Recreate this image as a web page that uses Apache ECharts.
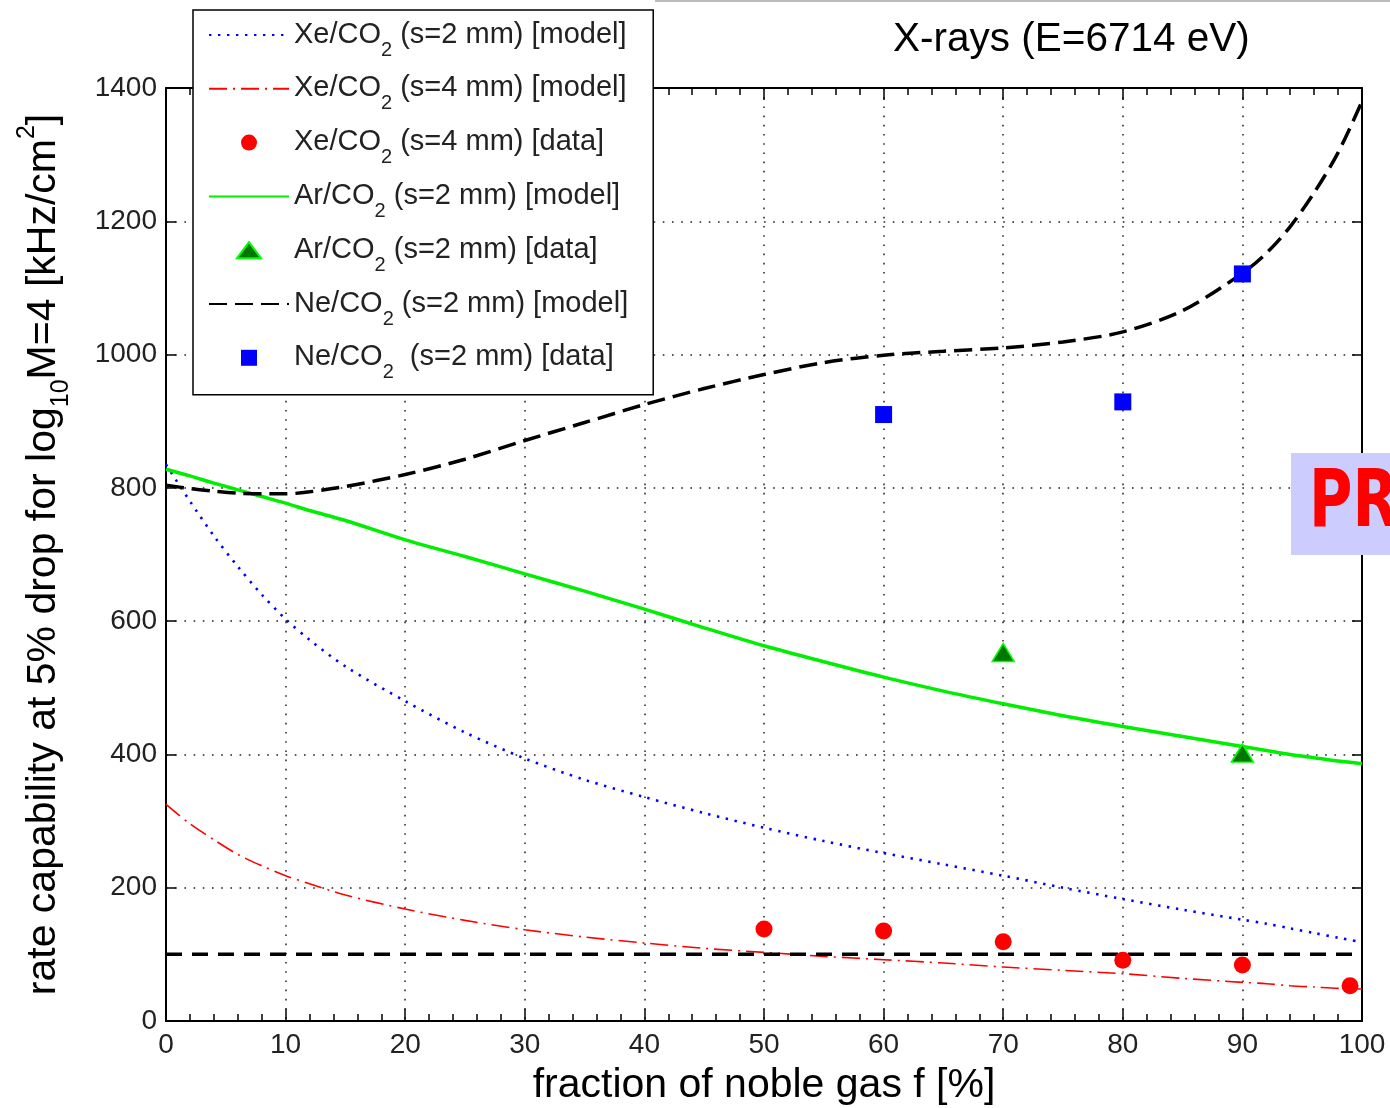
<!DOCTYPE html>
<html>
<head>
<meta charset="utf-8">
<script src="https://cdn.jsdelivr.net/npm/echarts@6/dist/echarts.min.js"></script>
<style>
html,body{margin:0;padding:0;background:#fff;}
#chart{width:1390px;height:1108px;}
</style>
</head>
<body>
<div id="chart"></div>
<script>
// ---- data ----
const fractionModel = [0,2,4,6,8,10,12,15,20,25,30,35,40,45,50,55,60,65,70,75,80,85,90,92,94,96,98,100];
const xe2Model = [835,780,728,682,640,603,572,532,480,433,394,362,336,312,290,270,252,235,218,200,183,167,152,146,139,132,125,118];
const xe4Model = [325,296,272,250,233,218,206,189,168,151,137,126,117,109,103,97,92,87,81,76,71,64,58,56,53,51,49,48];
const arModel  = [828,818,807,797,787,777,766,751,722,697,671,645,618,590,563,539,516,495,476,458,442,427,412,406,400,395,390,386];
const neModel  = [804,799,795,792,791,791,794,802,820,843,871,898,925,949,970,988,999,1005,1010,1019,1034,1066,1122,1152,1192,1243,1303,1380];

const xeDataF = [50,60,70,80,90,99];
const xeDataV = [138,135,119,91,84,53];
const arDataF = [70,90];
const arDataV = [553,402];
const neDataF = [60,80,90];
const neDataV = [910,929,1121];

const limitF = [0,100];
const limitV = [100,100];

const xTicks = {min:0, max:100, interval:10};
const yTicks = {min:0, max:1400, interval:200};

const names = [
  'Xe/CO2 (s=2 mm) [model]',
  'Xe/CO2 (s=4 mm) [model]',
  'Xe/CO2 (s=4 mm) [data]',
  'Ar/CO2 (s=2 mm) [model]',
  'Ar/CO2 (s=2 mm) [data]',
  'Ne/CO2 (s=2 mm) [model]',
  'Ne/CO2  (s=2 mm) [data]'
];

const zip = (a,b) => a.map((v,i)=>[v,b[i]]);
const FONT = '"Liberation Sans", Arial, sans-serif';

const chart = echarts.init(document.getElementById('chart'), null, {renderer:'canvas'});

const dotted = {type:[1.6,7.6], color:'#222', width:1.5};
const axisCommonX = {
  type:'value', min:xTicks.min, max:xTicks.max, interval:xTicks.interval,
  axisLine:{show:true, onZero:false, lineStyle:{color:'#000', width:2}},
  axisTick:{show:true, inside:true, length:12, lineStyle:{color:'#000', width:1.5}},
  minorTick:{show:true, splitNumber:5, length:7, lineStyle:{color:'#000', width:1.5}},
};
const axisCommonY = {
  type:'value', min:yTicks.min, max:yTicks.max, interval:yTicks.interval,
  axisLine:{show:true, onZero:false, lineStyle:{color:'#000', width:2}},
  axisTick:{show:true, inside:true, length:10, lineStyle:{color:'#000', width:1.5}},
};

const hideSym = {color:'rgba(0,0,0,0)', borderWidth:0, opacity:0};
const legendData = [
  {name:names[0], itemStyle:hideSym},
  {name:names[1], itemStyle:hideSym},
  {name:names[2], icon:'circle'},
  {name:names[3], itemStyle:hideSym},
  {name:names[4], icon:'path://M0,8 L6,0 L12,8 Z'},
  {name:names[5], itemStyle:hideSym},
  {name:names[6], icon:'path://M0,0 L10,0 L10,10 L0,10 Z'}
];

const option = {
  backgroundColor:'#fff',
  animation:false,
  textStyle:{fontFamily:FONT},
  title:{
    text:'X-rays (E=6714 eV)', left:893, top:19, padding:0,
    textStyle:{fontFamily:FONT, fontSize:40.5, fontWeight:'normal', color:'#000'}
  },
  grid:{left:166, right:28, top:88, bottom:87, containLabel:false, outerBoundsMode:'none'},
  xAxis:[
    Object.assign({}, axisCommonX, {
      position:'bottom',
      axisLabel:{show:true, fontSize:28, color:'#222', margin:10, fontFamily:FONT},
      splitLine:{show:true, lineStyle:dotted},
      name:'fraction of noble gas f [%]', nameLocation:'middle', nameGap:44,
      nameTextStyle:{fontSize:41, color:'#000', fontFamily:FONT}
    }),
    Object.assign({}, axisCommonX, {
      position:'top', axisLabel:{show:false}, splitLine:{show:false}
    })
  ],
  yAxis:[
    Object.assign({}, axisCommonY, {
      position:'left',
      axisLabel:{show:true, fontSize:28, color:'#222', margin:9, fontFamily:FONT, formatter: v => String(v)},
      splitLine:{show:true, lineStyle:dotted},
      name:'{m|rate capability at 5% drop for log}{b|10}{m|M=4 [kHz/cm}{p|2}{m|]}',
      nameLocation:'middle', nameGap:107, nameRotate:90,
      nameTextStyle:{
        color:'#000', fontFamily:FONT,
        rich:{
          m:{fontSize:41, lineHeight:44, verticalAlign:'top', padding:[8,0,0,0], fontFamily:FONT, color:'#000'},
          b:{fontSize:25, lineHeight:25, verticalAlign:'top', padding:[34,0,0,0], fontFamily:FONT, color:'#000'},
          p:{fontSize:25, lineHeight:25, verticalAlign:'top', padding:[0,0,0,0], fontFamily:FONT, color:'#000'}
        }
      }
    }),
    Object.assign({}, axisCommonY, {
      position:'right', axisLabel:{show:false}, splitLine:{show:false}
    })
  ],
  legend:{
    data:legendData, orient:'vertical', left:193, top:10,
    padding:[10,25,12,15], itemGap:13.8, itemWidth:80, itemHeight:16,
    backgroundColor:'#fff', borderColor:'#000', borderWidth:1.5, borderRadius:0,
    selectedMode:false, z:10, symbolKeepAspect:true,
    formatter: n => '{a|' + n.replace('CO2', 'CO}{s|2}{a|') + '}',
    textStyle:{
      color:'#222', fontFamily:FONT, padding:[0,0,0,0],
      rich:{
        a:{fontSize:29, lineHeight:30, verticalAlign:'top', color:'#222', fontFamily:FONT},
        s:{fontSize:20, lineHeight:20, verticalAlign:'top', padding:[20,0,0,0], color:'#222', fontFamily:FONT}
      }
    }
  },
  graphic:[
    {type:'rect', z:100, shape:{x:1291, y:453, width:99, height:102}, style:{fill:'#ccccff'}},
    {type:'text', z:101, x:1309, y:465, scaleX:0.74, scaleY:1,
      style:{text:'PR', fill:'#ff0000', font:'bold 80px "DejaVu Sans", sans-serif', textAlign:'left', textVerticalAlign:'top'}},
    {type:'line', z:100, shape:{x1:655, y1:1, x2:1390, y2:1}, style:{stroke:'#bbb', lineWidth:2}}
  ],
  series:[
    {name:names[0], type:'line', data:zip(fractionModel, xe2Model), symbol:'none', smooth:0.3,
      lineStyle:{color:'#0000ff', width:2.6, type:[2.4,6.6], cap:'butt'}, itemStyle:{color:'#0000ff'}, z:3},
    {name:names[1], type:'line', data:zip(fractionModel, xe4Model), symbol:'none', smooth:0.3,
      lineStyle:{color:'#ff0000', width:1.6, type:[18,6,2,6]}, itemStyle:{color:'#ff0000'}, z:3},
    {name:names[3], type:'line', data:zip(fractionModel, arModel), symbol:'none', smooth:0.3,
      lineStyle:{color:'#00ee00', width:3.5}, itemStyle:{color:'#00ee00'}, z:3},
    {name:names[5], type:'line', data:zip(fractionModel, neModel), symbol:'none', smooth:0.3,
      lineStyle:{color:'#000', width:3.5, type:[18,8]}, itemStyle:{color:'#000'}, z:3},
    {name:'limit', type:'line', data:zip(limitF, limitV), symbol:'none',
      lineStyle:{color:'#000', width:3.5, type:[16,10]}, z:3, silent:true},
    {name:names[2], type:'scatter', data:zip(xeDataF, xeDataV), symbol:'circle', symbolSize:17,
      itemStyle:{color:'#ff0000', opacity:1}, z:5},
    {name:names[4], type:'scatter', data:zip(arDataF, arDataV), symbol:'triangle', symbolSize:[22,18],
      itemStyle:{color:'#007700', borderColor:'#00ff00', borderWidth:1.5, opacity:1}, z:5},
    {name:names[6], type:'scatter', data:zip(neDataF, neDataV), symbol:'rect', symbolSize:17,
      itemStyle:{color:'#0000ff', opacity:1}, z:5}
  ]
};
chart.setOption(option);
</script>
</body>
</html>
